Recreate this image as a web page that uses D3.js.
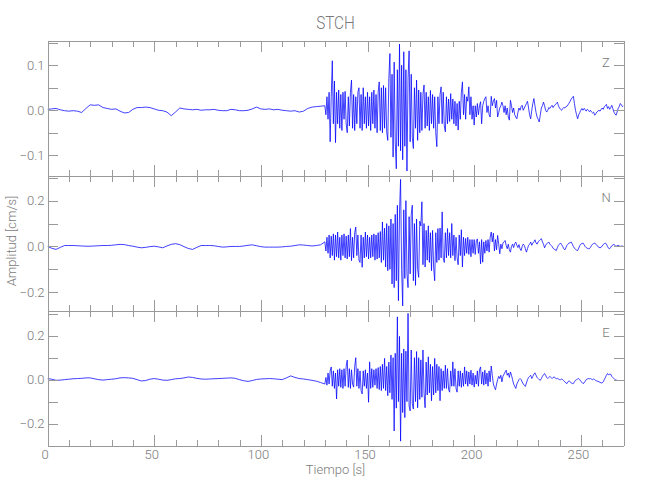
<!DOCTYPE html>
<html>
<head>
<meta charset="utf-8">
<script src="https://cdn.jsdelivr.net/npm/d3@7"></script>
<style>
  html, body { margin: 0; padding: 0; background: #ffffff; }
  svg { display: block; }
  text { font-family: Roboto, "Liberation Sans Narrow", "DejaVu Sans", sans-serif; font-weight: 300; fill: #7a7a7a; }
  .axis path, .axis line { stroke: #9a9a9a; shape-rendering: crispEdges; }
</style>
</head>
<body>
<script>
// ---------------- data ----------------
const stationName = "STCH";
const components = ["Z", "N", "E"];
const xTickLabels = [0, 50, 100, 150, 200, 250];
const quietStart = 0, quietStep = 2;      // seconds
const activeStart = 130, activeStep = 0.5; // seconds

// Z component, 0..128 s every 2 s
const zQuiet = [.002,.003,.004,.001,-.001,-.002,-.001,-.002,-.005,.004,.012,.011,.012,.006,.004,.002,.003,-.002,-.006,-.005,
  .002,.006,.006,.007,.006,.003,.0,-.001,-.004,-.012,-.004,.005,.003,.002,.001,.002,.0,.001,.001,.002,
  .0,-.001,-.001,.002,.001,-.001,-.001,.0,.003,.007,.003,.002,.003,.001,.002,.0,-.001,-.002,-.001,-.004,
  -.002,.004,.007,.008,.009];
// Z component, 130..270 s every 0.5 s
const zActive = [
  .01,-.01,.03,-.02,.04,-.07,.03,.11,-.03,.065,-.072,.04,-.03,.045,-.04,.035,-.045,.04,-.02,.042,
  -.03,-.05,.03,-.035,.04,.067,-.04,.035,-.045,.03,-.03,.04,.05,-.04,.035,-.045,.05,-.03,.03,-.04,
  .04,-.035,.03,-.045,.04,-.03,.045,-.04,.035,-.05,.04,.063,-.045,.05,-.05,.055,-.04,.05,-.048,-.067,
  .07,.126,-.06,.08,-.104,.107,-.07,-.13,.09,-.08,.147,-.09,.1,-.11,.13,-.08,.09,-.135,.07,.132,
  -.07,.08,-.06,-.085,.05,-.04,.067,-.067,.045,-.05,.04,-.045,.035,.056,-.04,.04,-.035,.03,-.045,.044,
  -.03,.035,-.04,.03,-.05,-.081,.03,-.03,.035,.052,-.03,.04,-.035,-.048,.03,-.03,.025,-.025,.037,-.02,
  .025,-.03,.02,-.035,.015,-.044,.02,-.02,.04,.063,-.01,.035,-.02,.03,.02,.052,-.01,.03,-.02,.01,
  -.033,.01,-.015,.015,-.01,.01,.019,-.03,.01,.02,.026,.03,-.005,.01,-.01,-.015,.031,.01,.02,.026,
  .005,.022,-.015,-.005,.005,.01,.018,.01,-.005,.01,-.01,.005,-.015,-.022,.022,.01,-.005,.005,-.01,-.015,
  -.019,-.005,.005,.0,.008,.011,.0,.005,.01,.015,.02,.005,-.01,-.019,.0,.015,.026,.01,-.005,-.015,
  -.02,-.026,-.01,.005,.01,.018,.01,.0,-.004,.0,.006,.004,.008,.011,.006,.01,.012,.015,.018,.01,
  .005,.002,.0,.004,.006,.005,.008,.009,.012,.016,.02,.025,.028,.031,.015,.0,-.01,-.019,-.01,-.005,
  .0,.004,.0,.004,.002,-.002,.002,.0,-.003,.0,-.004,-.006,-.004,-.011,-.008,-.004,-.002,.0,-.002,.002,
  .005,.002,.008,.01,.013,.004,.008,.002,.006,.011,.004,-.004,-.008,-.011,-.004,.004,.008,.015,.012,.008,
  .01];

// N component
const nQuiet = [.0,-.008,-.013,-.004,.004,.004,.004,.003,.002,.001,.001,.002,.003,.004,.004,.005,.007,.009,.008,.004,
  .001,-.003,-.006,-.004,-.001,.001,-.002,-.006,.002,.009,.012,.008,-.001,-.009,-.013,-.004,.004,.004,.004,.003,
  .0,-.003,-.002,.0,.0,.0,.002,.005,.007,.003,-.001,-.003,-.003,-.003,-.003,-.002,.0,.001,.004,.007,
  .006,.004,.002,.004,.007];
const nActive = [
  .02,-.02,.04,-.03,.05,-.05,.045,-.04,.055,-.06,.05,-.045,.063,-.05,.04,-.06,.05,-.04,.055,-.05,
  .045,-.055,.05,-.045,.078,-.062,.04,-.05,.06,.085,-.04,.05,-.06,-.07,.05,-.091,.04,-.05,.063,-.045,
  .05,-.055,.04,-.05,.05,-.045,.055,-.06,.05,-.055,.06,-.05,.065,-.07,.107,-.06,.08,-.09,.1,-.106,
  .09,-.1,.12,-.164,.1,-.18,.14,-.15,.18,-.237,.15,.293,-.1,-.26,.16,-.14,.2,-.12,-.18,.13,
  -.12,.14,.18,-.15,.1,-.17,.12,-.1,-.135,.11,.09,.195,-.08,.1,-.09,.07,-.06,.09,-.07,.06,
  -.106,.07,-.09,-.15,.06,-.07,.078,-.06,.08,-.05,.151,-.05,-.07,.06,-.05,.078,-.04,.06,-.05,.1,
  -.04,.05,-.062,.04,-.05,-.08,.05,-.04,.073,-.09,.04,-.04,.035,-.03,.04,-.035,.03,-.045,.03,-.03,
  .03,-.035,.025,.033,-.03,.02,-.076,.03,-.069,.02,-.03,.026,-.02,.03,-.025,.04,.063,.02,.058,-.02,
  .03,-.015,.048,.01,-.032,.01,-.01,.015,.02,.026,.005,-.01,.01,-.015,-.025,.0,.01,-.005,.012,.019,
  .005,-.005,.008,-.01,-.018,.0,.01,.005,-.01,-.025,-.01,.005,.01,.019,.005,.015,.02,.029,.015,.01,
  .02,.025,.03,.034,.02,.01,-.006,.005,.012,.015,.019,.01,.005,.0,-.008,-.012,-.015,-.018,-.005,.005,
  .01,.015,.008,.0,-.01,-.015,-.005,.005,.01,.015,.017,.019,.01,.0,-.008,-.012,-.016,-.018,-.008,.004,
  .01,.013,.015,.008,.0,-.005,-.008,-.01,-.01,-.004,.004,.01,.013,.015,.01,.004,.0,-.004,-.006,-.004,
  .002,.008,.012,.015,.01,.0,-.008,-.01,-.004,.003,.006,.009,.005,.0,.003,.005,.002,.0,.002,.001,
  .0];

// E component
const eQuiet = [.005,.002,-.003,-.002,.0,.002,.004,.005,.006,.008,.008,.004,.0,-.002,.0,.002,.004,.008,.009,.008,
  .006,.0,-.006,-.004,.002,.005,.002,-.002,-.003,.0,.004,.005,.008,.012,.01,.006,.003,.002,.003,.004,
  .005,.006,.007,.008,.006,.0,-.005,-.008,-.004,.001,.003,.004,.005,.004,.002,.0,.008,.017,.01,.005,
  .003,.0,-.003,-.007,-.013];
const eActive = [
  -.02,.01,-.025,.03,-.02,.04,.058,-.03,.04,-.04,.03,-.088,.045,-.03,.05,-.035,.045,-.04,.05,-.03,
  .06,.089,-.035,.05,-.04,.045,-.02,-.034,.06,.1,-.03,.05,-.04,.04,-.05,-.065,.04,-.03,.045,-.04,
  .03,-.103,.081,-.04,.05,-.035,.045,-.025,.05,-.04,.055,-.045,.06,-.05,.07,-.04,.097,-.05,.06,-.073,
  .08,-.06,.112,-.09,.1,-.234,.12,-.13,.286,-.1,.197,-.28,.12,-.15,.14,-.173,.13,-.1,.302,-.12,
  -.142,.135,-.11,-.134,.1,-.1,.128,-.128,.1,-.09,.09,-.08,.135,-.06,-.128,.08,-.07,.104,-.06,.07,
  -.096,.06,-.07,.097,-.06,.07,-.05,.06,-.096,.05,-.05,.04,-.04,.066,-.04,.05,-.045,-.057,.04,-.03,
  .081,-.03,.05,-.04,-.057,.04,-.03,.04,-.035,.03,-.03,.058,-.02,.04,-.03,.035,-.02,.043,-.025,.03,
  -.034,.02,-.02,.04,-.03,.045,.058,-.02,.035,-.025,.043,-.02,.03,-.03,.04,-.01,.062,.02,-.02,-.035,
  -.046,-.02,.0,.015,.005,.02,-.01,.015,.025,.035,.043,.02,.03,.01,.035,.02,.0,-.02,-.03,-.04,
  -.02,-.01,.0,.005,.0,-.01,-.02,-.025,-.031,-.015,.0,.01,.015,.02,.005,.015,.025,.031,.02,.01,
  .005,.0,-.003,.005,.015,.022,.028,.02,.01,.005,.01,.015,.01,.005,.01,.012,.008,.004,.006,.003,
  .0,.0,.003,.0,-.005,-.01,-.015,-.018,-.01,-.005,-.01,-.015,-.018,-.018,-.01,-.003,.0,.003,.005,.0,
  -.008,-.012,-.018,-.015,-.008,.0,.003,.005,.004,.005,.002,.0,.003,.0,-.004,-.006,-.008,-.01,-.012,-.015,
  -.015,-.01,.0,.01,.02,.028,.022,.025,.025,.015,.01,.005,.0,-.003,-.002];

// per-panel y ranges and labelled ticks
const yDomains = [[-0.145, 0.155], [-0.28, 0.31], [-0.3, 0.315]];
const yTickSteps = [0.05, 0.1, 0.1];
const yLabelValues = [[-0.1, 0, 0.1], [-0.2, 0, 0.2], [-0.2, 0, 0.2]];

// ---------------- drawing ----------------
const W = 650, H = 500;
const left = 47.5, right = 623.5;
const panelTops = [40.5, 175.5, 310.5];
const panelH = 135;

const svg = d3.select("body").append("svg").attr("width", W).attr("height", H);

const x = d3.scaleLinear().domain([0, 270]).range([left, right]);

function series(quiet, active) {
  const pts = quiet.map((v, i) => [quietStart + i * quietStep, v]);
  return pts.concat(active.map((v, i) => [activeStart + i * activeStep, v]));
}
const traces = [series(zQuiet, zActive), series(nQuiet, nActive), series(eQuiet, eActive)];

svg.append("text")
  .attr("x", (left + right) / 2).attr("y", 29)
  .attr("text-anchor", "middle").style("font-size", "18px")
  .attr("transform", `translate(${(left + right) / 2},0) scale(0.85,1) translate(${-(left + right) / 2},0)`)
  .text(stationName);

const fmt = d3.format(".1f");

components.forEach((comp, p) => {
  const top = panelTops[p], bottom = top + panelH;
  const y = d3.scaleLinear().domain(yDomains[p]).range([bottom, top]);
  const g = svg.append("g");

  const clipId = "clip" + p;
  svg.append("clipPath").attr("id", clipId)
    .append("rect").attr("x", left).attr("y", top).attr("width", right - left).attr("height", panelH);

  const line = d3.line().x(d => x(d[0])).y(d => y(d[1]));
  g.append("path").datum(traces[p])
    .attr("clip-path", `url(#${clipId})`)
    .attr("fill", "none").attr("stroke", "#0000ff").attr("stroke-width", 0.75)
    .attr("stroke-linejoin", "round")
    .attr("d", line);

  const step = yTickSteps[p];
  const yTicks = d3.range(Math.ceil(yDomains[p][0] / step - 1e-9), Math.floor(yDomains[p][1] / step + 1e-9) + 1)
    .map(k => +(k * step).toFixed(3));
  const labels = yLabelValues[p];
  const yFmt = v => labels.some(l => Math.abs(l - v) < 1e-9) ? fmt(v) : "";

  // left axis
  g.append("g").attr("class", "axis").attr("transform", `translate(${left},0)`)
    .call(d3.axisLeft(y).tickValues(yTicks).tickSize(-10).tickSizeOuter(0).tickPadding(3).tickFormat(yFmt))
    .call(a => a.selectAll("text").style("font-size", "13px").attr("fill", "#7a7a7a"));
  // right axis
  g.append("g").attr("class", "axis").attr("transform", `translate(${right},0)`)
    .call(d3.axisRight(y).tickValues(yTicks).tickSize(-10).tickSizeOuter(0).tickFormat(""));

  const minorX = d3.range(0, 271, 10);
  const majorX = xTickLabels;
  // top axis
  g.append("g").attr("class", "axis").attr("transform", `translate(0,${top})`)
    .call(d3.axisTop(x).tickValues(minorX).tickSize(-6).tickSizeOuter(0).tickFormat(""));
  g.append("g").attr("class", "axis").attr("transform", `translate(0,${top})`)
    .call(d3.axisTop(x).tickValues(majorX).tickSize(-11).tickSizeOuter(0).tickFormat(""));
  // bottom axis
  g.append("g").attr("class", "axis").attr("transform", `translate(0,${bottom})`)
    .call(d3.axisBottom(x).tickValues(minorX).tickSize(-6).tickSizeOuter(0).tickFormat(""));
  const bAx = g.append("g").attr("class", "axis").attr("transform", `translate(0,${bottom})`)
    .call(d3.axisBottom(x).tickValues(majorX).tickSize(-11).tickSizeOuter(0).tickPadding(4)
      .tickFormat(p === 2 ? d3.format("d") : ""));
  bAx.selectAll("text").style("font-size", "13px").attr("fill", "#7a7a7a").attr("dx", "-3");

  // component label
  svg.append("text").attr("x", 606).attr("y", top + 26)
    .attr("text-anchor", "middle").style("font-size", "13px").text(comp);
});

svg.selectAll(".axis .domain").attr("stroke", "#9a9a9a");

svg.append("text")
  .attr("transform", `translate(16,${panelTops[1] + panelH / 2 - 2}) rotate(-90)`)
  .attr("text-anchor", "middle").style("font-size", "13px")
  .text("Amplitud [cm/s]");

svg.append("text")
  .attr("x", (left + right) / 2).attr("y", 474)
  .attr("text-anchor", "middle").style("font-size", "13px")
  .text("Tiempo [s]");
</script>
</body>
</html>
